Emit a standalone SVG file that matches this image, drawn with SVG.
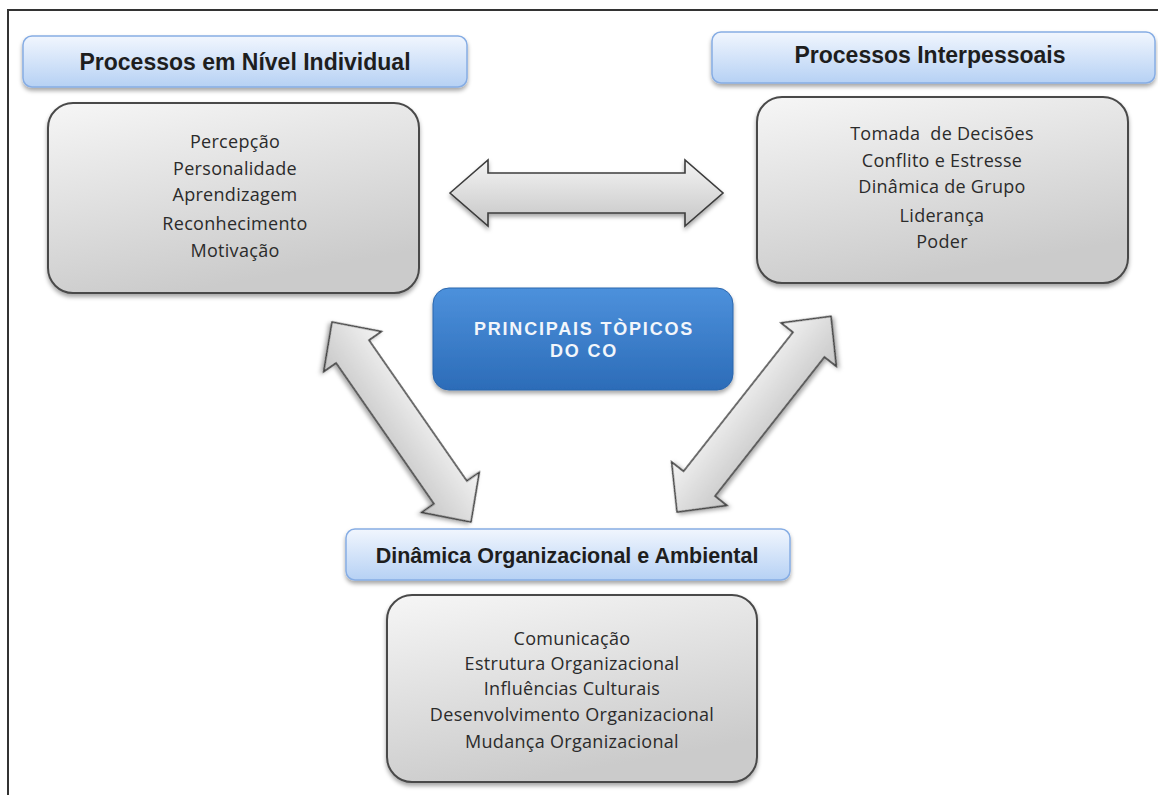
<svg xmlns="http://www.w3.org/2000/svg" width="1158" height="795" viewBox="0 0 1158 795">
  <defs>
    <linearGradient id="hdrGrad" x1="0" y1="0" x2="0" y2="1">
      <stop offset="0" stop-color="#f1f6fe"/>
      <stop offset="1" stop-color="#b6d1f4"/>
    </linearGradient>
    <linearGradient id="boxGrad" x1="0" y1="0" x2="0.35" y2="1">
      <stop offset="0" stop-color="#f6f6f6"/>
      <stop offset="1" stop-color="#cbcbcb"/>
    </linearGradient>
    <linearGradient id="blueGrad" x1="0" y1="0" x2="0" y2="1">
      <stop offset="0" stop-color="#4d91dc"/>
      <stop offset="1" stop-color="#2c6cb8"/>
    </linearGradient>
    <linearGradient id="arrowGrad" x1="0" y1="0" x2="0" y2="1">
      <stop offset="0" stop-color="#f4f4f4"/>
      <stop offset="1" stop-color="#c6c6c6"/>
    </linearGradient>
    <filter id="shadow" x="-10%" y="-10%" width="120%" height="130%">
      <feDropShadow dx="0" dy="3" stdDeviation="2" flood-color="#000" flood-opacity="0.35"/>
    </filter>
  </defs>
  <style>
    .frame { stroke: #333; stroke-width: 2; fill: none; }
    .hdr { fill: url(#hdrGrad); stroke: #86ade4; stroke-width: 1.5; filter: url(#shadow); }
    .hdrText { font-family: "Liberation Sans", Arial, sans-serif; font-weight: bold; fill: #1e1e1e; text-anchor: middle; }
    .box { fill: url(#boxGrad); stroke: #4a4a4a; stroke-width: 2; filter: url(#shadow); }
    .boxText { font-family: "Open Sans", "Noto Sans", sans-serif; font-size: 18px; letter-spacing: 0.3px; fill: #2b2b2b; text-anchor: middle; }
    .center { fill: url(#blueGrad); stroke: #2b66ad; stroke-width: 1; filter: url(#shadow); }
    .centerText { font-family: "Liberation Sans", Arial, sans-serif; font-weight: bold; font-size: 18px; fill: #f2f6fb; text-anchor: middle; letter-spacing: 1.8px; }
    .arrow { fill: url(#arrowGrad); stroke: #3c3c3c; stroke-width: 1.6; stroke-linejoin: miter; filter: url(#shadow); }
  </style>

  <rect x="0" y="0" width="1158" height="795" fill="#ffffff"/>
  <path class="frame" d="M8,795 L8,10 L1158,10"/>

  <g id="connectors">
    <polygon class="arrow" transform="translate(450,193)" points="0,0 38,-33 38,-20 235,-20 235,-33 273,0 235,33 235,20 38,20 38,33"/>
    <polygon class="arrow" transform="translate(332,322) rotate(55.2)" points="0,0 36,-35 36,-20 207.5,-20 207.5,-35 243.5,0 207.5,35 207.5,20 36,20 36,35"/>
    <polygon class="arrow" transform="translate(677,512) rotate(-51.8)" points="0,0 36,-35 36,-20 213,-20 213,-35 249,0 213,35 213,20 36,20 36,35"/>
  </g>

  <g id="hdr-individual">
    <rect class="hdr" x="23" y="36" width="444" height="51" rx="9"/>
    <text class="hdrText" x="245" y="70" font-size="23">Processos em Nível Individual</text>
  </g>

  <g id="hdr-interpessoais">
    <rect class="hdr" x="712" y="32" width="443" height="51" rx="9"/>
    <text class="hdrText" x="930" y="63" font-size="23">Processos Interpessoais</text>
  </g>

  <g id="hdr-dinamica">
    <rect class="hdr" x="346" y="529" width="444" height="51" rx="9"/>
    <text class="hdrText" x="567" y="563" font-size="21.5">Dinâmica Organizacional e Ambiental</text>
  </g>

  <g id="box-individual">
    <rect class="box" x="48" y="103" width="371" height="190" rx="25"/>
    <text class="boxText" x="235" y="148">Percepção</text>
    <text class="boxText" x="235" y="175">Personalidade</text>
    <text class="boxText" x="235" y="201">Aprendizagem</text>
    <text class="boxText" x="235" y="230">Reconhecimento</text>
    <text class="boxText" x="235" y="257">Motivação</text>
  </g>

  <g id="box-interpessoais">
    <rect class="box" x="757" y="97" width="371" height="186" rx="25"/>
    <text class="boxText" x="942" y="140" xml:space="preserve">Tomada  de Decisões</text>
    <text class="boxText" x="942" y="167">Conflito e Estresse</text>
    <text class="boxText" x="942" y="193">Dinâmica de Grupo</text>
    <text class="boxText" x="942" y="222">Liderança</text>
    <text class="boxText" x="942" y="248">Poder</text>
  </g>

  <g id="box-dinamica">
    <rect class="box" x="387" y="595" width="370" height="187" rx="25"/>
    <text class="boxText" x="572" y="645">Comunicação</text>
    <text class="boxText" x="572" y="670">Estrutura Organizacional</text>
    <text class="boxText" x="572" y="695">Influências Culturais</text>
    <text class="boxText" x="572" y="721">Desenvolvimento Organizacional</text>
    <text class="boxText" x="572" y="748">Mudança Organizacional</text>
  </g>

  <g id="center-topicos">
    <rect class="center" x="433" y="288" width="300" height="102" rx="16"/>
    <text class="centerText" x="584" y="335">PRINCIPAIS TÒPICOS</text>
    <text class="centerText" x="584" y="357">DO CO</text>
  </g>
</svg>
